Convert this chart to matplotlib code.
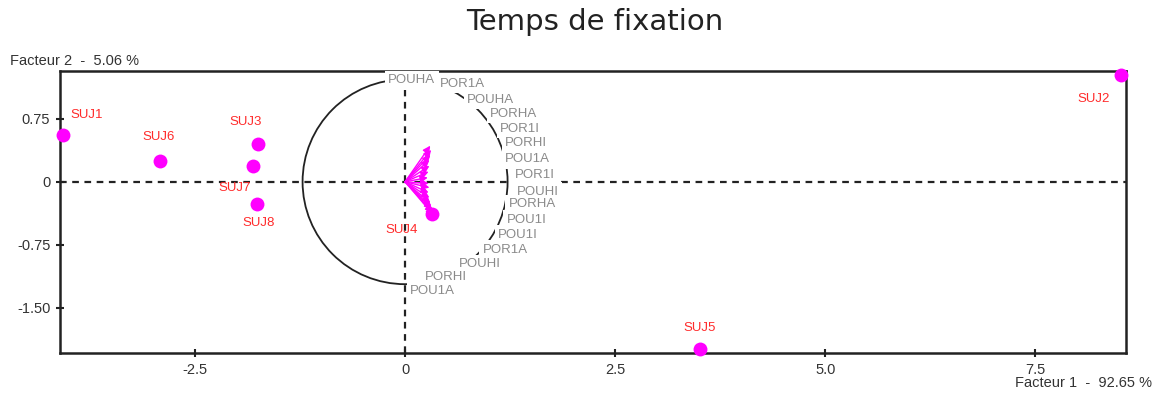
import numpy as np
import matplotlib
matplotlib.use('Agg')
import matplotlib.pyplot as plt
from matplotlib.patches import Circle

plt.rcParams['font.family'] = ['Liberation Sans', 'DejaVu Sans']

# individus (sujets)
sujets = ['SUJ1', 'SUJ2', 'SUJ3', 'SUJ4', 'SUJ5', 'SUJ6', 'SUJ7', 'SUJ8']
suj_x = [-4.07, 8.52, -1.75, 0.32, 3.51, -2.92, -1.81, -1.76]
suj_y = [0.56, 1.27, 0.45, -0.38, -1.99, 0.25, 0.19, -0.26]

# variables (cercle des correlations)
variables = ['POUHA', 'POR1A', 'POUHA', 'PORHA', 'POR1I', 'PORHI', 'POU1A', 'POR1I',
             'POUHI', 'PORHA', 'POU1I', 'POU1I', 'POR1A', 'POUHI', 'PORHI', 'POU1A']
var_x = [0.30, 0.31, 0.30, 0.29, 0.29, 0.28, 0.27, 0.28,
         0.29, 0.28, 0.29, 0.30, 0.31, 0.32, 0.33, 0.34]
var_y = [0.43, 0.38, 0.32, 0.26, 0.19, 0.12, 0.05, -0.02,
         -0.07, -0.13, -0.19, -0.25, -0.29, -0.33, -0.37, -0.40]
lab_x = [-0.20, 0.42, 0.74, 1.01, 1.13, 1.19, 1.19, 1.31,
         1.33, 1.23, 1.21, 1.11, 0.92, 0.64, 0.24, 0.06]
lab_y = [1.21, 1.17, 0.98, 0.81, 0.63, 0.46, 0.27, 0.08,
         -0.12, -0.27, -0.45, -0.63, -0.81, -0.98, -1.13, -1.30]
rayon = 1.22

xticks = [-2.5, 0, 2.5, 5.0, 7.5]
xticklabels = ['-2.5', '0', '2.5', '5.0', '7.5']
yticks = [0.75, 0, -0.75, -1.50]
yticklabels = ['0.75', '0', '-0.75', '-1.50']

# decalage des etiquettes des sujets (points)
offsets = [(17, 14), (-20, -17), (-9, 16), (-22, -12), (0, 15), (-1, 17), (-13, -16), (1, -14)]

fig = plt.figure(figsize=(11.55, 3.94), dpi=100)
ax = fig.add_axes([60 / 1155, 1 - 353 / 394, 1066 / 1155, 282 / 394])
ax.set_xlim(-4.107, 8.58)
ax.set_ylim(-2.04, 1.32)

for s in ax.spines.values():
    s.set_linewidth(1.8)
    s.set_color('#222222')

ax.axhline(0, color='#222222', lw=1.6, ls=(0, (3, 2.5)), zorder=1)
ax.axvline(0, color='#222222', lw=1.6, ls=(0, (3, 2.5)), zorder=1)

ax.add_patch(Circle((0, 0), rayon, fill=False, ec='#222222', lw=1.3, zorder=1.5))

for x, y in zip(var_x, var_y):
    ax.annotate('', xy=(x, y), xytext=(0, 0),
                arrowprops=dict(arrowstyle='-|>', color='#ff00ff', lw=1.0,
                                mutation_scale=11, shrinkA=0, shrinkB=0), zorder=2)

for name, x, y in zip(variables, lab_x, lab_y):
    ax.text(x, y, name, color='#8a8a8a', fontsize=9.5, ha='left', va='center', zorder=4,
            bbox=dict(facecolor='white', edgecolor='none', pad=2.5), clip_on=False)

ax.scatter(suj_x, suj_y, s=100, color='#ff00ff', zorder=5, clip_on=False, linewidths=0)
for name, x, y, off in zip(sujets, suj_x, suj_y, offsets):
    ax.annotate(name, xy=(x, y), xytext=off, textcoords='offset points',
                color='#ff2a2a', fontsize=9.5, ha='center', va='center', zorder=6)

ax.set_xticks(xticks)
ax.set_xticklabels(xticklabels)
ax.set_yticks(yticks)
ax.set_yticklabels(yticklabels)
ax.tick_params(direction='inout', length=6, width=1.5, color='#222222',
               labelsize=10.5, labelcolor='#333333', pad=4)

fig.text(595 / 1155, 1 - 22 / 394, 'Temps de fixation', fontsize=21, color='#222222',
         ha='center', va='center', family=['DejaVu Sans'])
fig.text(10 / 1155, 1 - 61 / 394, 'Facteur 2  -  5.06 %', fontsize=10.5, color='#333333',
         ha='left', va='center')
fig.text(1152 / 1155, 1 - 383 / 394, 'Facteur 1  -  92.65 %', fontsize=10.5, color='#333333',
         ha='right', va='center')

fig.savefig('out.png', dpi=100)
